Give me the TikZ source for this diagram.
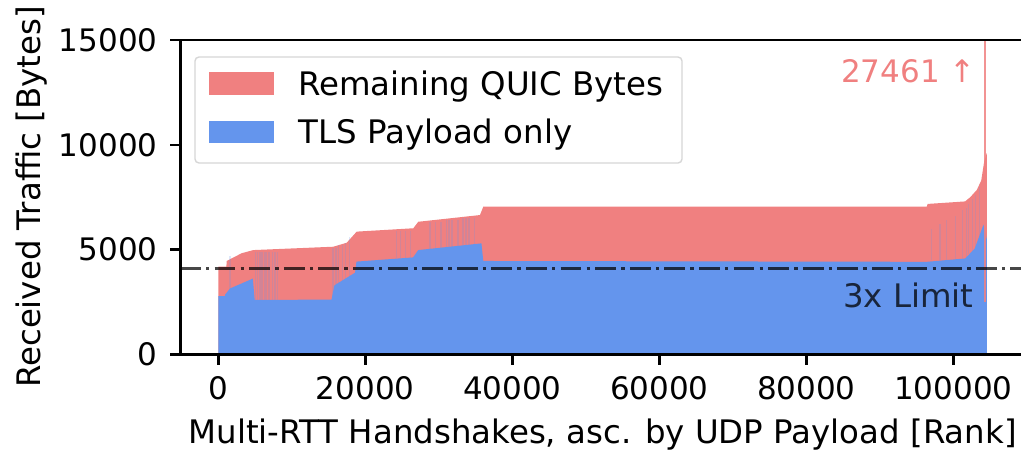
\documentclass[tikz,border=0pt]{standalone}
\usepackage{fontspec}
\setmainfont{DejaVu Sans}
\usetikzlibrary{positioning}
\definecolor{quicred}{RGB}{240,128,128}
\definecolor{tlsblue}{RGB}{100,149,237}
\definecolor{legframe}{RGB}{214,214,214}
\tikzstyle{spine}=[line width=1.25pt]
\tikzstyle{tickmark}=[line width=1.25pt]
\tikzstyle{ticklabel}=[inner sep=0pt]
\tikzstyle{biglabel}=[inner sep=0pt, font=\fontsize{16.2}{19}\selectfont]
\tikzstyle{patch}=[rectangle, inner sep=0pt, minimum width=32.5pt, minimum height=11.2pt]
\tikzstyle{streak}=[draw=tlsblue, opacity=0.22, line width=0.6pt]
\tikzstyle{limitline}=[black, opacity=0.72, line width=1.7pt,
  dash pattern=on 10.4pt off 2.6pt on 1.7pt off 2.6pt]

\begin{document}
\begin{tikzpicture}[x=0.5pt, y=-0.5pt, font=\fontsize{15.5}{18}\selectfont]
    \useasboundingbox (0,0) rectangle (1021,450);

    % stacked areas, k handshakes on x, kB on y
    \begin{scope}[shift={(218.3,354.5)}, x=3.675pt, y=10.485pt]
      \clip (-5.2,0) rectangle (109.7,15);
      \fill[quicred] (0,0) -- (0,4.19) -- (1.1,4.19) -- (1.14,4.46) -- (3.18,4.83)
        -- (4.76,4.98) -- (15.65,5.14) -- (17.47,5.33) -- (18.83,5.86) -- (26.53,6.02)
        -- (27.21,6.33) -- (35.6,6.65) -- (36.05,7.05) -- (96.4,7.05) -- (96.5,7.18)
        -- (101.6,7.3) -- (102.3,7.5) -- (103.2,7.85) -- (103.8,8.3) -- (104.2,9.2)
        -- (104.55,9.6) -- (104.55,0) -- cycle;
      \fill[tlsblue] (0,0) -- (0,2.79) -- (0.9,2.79) -- (0.95,2.87) -- (1.6,3.15)
        -- (4.7,3.62) -- (4.95,2.6) -- (15.4,2.62) -- (15.8,3.3) -- (17.2,3.6)
        -- (18.6,3.9) -- (18.8,4.43) -- (26.5,4.63) -- (27.2,4.98) -- (35.8,5.3)
        -- (36.05,4.46) -- (96.4,4.42) -- (101.6,4.58) -- (102.9,5.04) -- (104.1,6.19)
        -- (104.55,5.5) -- (104.55,0) -- cycle;
      \foreach \k/\lo/\hi in {1.6/3.1/4.7, 5.1/2.6/4.9, 5.3/2.6/4.9, 5.6/2.6/4.9,
          5.8/2.6/4.9, 6.0/2.6/4.9, 6.3/2.6/4.9, 6.5/2.6/4.9, 6.8/2.6/4.9,
          7.0/2.6/4.9, 7.4/2.6/4.9, 7.7/2.6/4.9, 8.0/2.6/4.9, 15.5/2.7/5.1,
          15.7/2.7/5.1, 16.0/3.0/5.1, 16.4/3.2/5.2, 16.9/3.4/5.2, 17.3/3.5/5.3,
          17.9/3.6/5.6, 24.2/4.6/5.9, 24.8/4.6/5.9, 25.5/4.6/5.9, 26.1/4.6/5.9,
          28.8/5.0/6.3, 29.5/5.0/6.3, 30.3/5.0/6.3, 31.0/5.1/6.4, 31.4/5.1/6.4,
          31.8/5.1/6.4, 32.6/5.1/6.4, 33.3/5.2/6.5, 33.7/5.2/6.5, 34.1/5.2/6.5,
          34.9/5.2/6.5, 97.0/4.5/6.0, 98.2/4.5/6.2, 99.1/4.5/6.4, 100.3/4.5/6.6,
          101.2/4.6/6.9, 101.8/4.6/7.0, 102.1/4.8/7.2, 102.6/4.9/7.4, 103.0/5.0/7.6,
          103.6/5.4/8.0}
        \draw[streak] (\k,\lo) -- (\k,\hi);
      \draw[quicred, opacity=0.85, line width=1.2pt] (104.3,2.5) -- (104.3,15);
      \draw[limitline] (-5.2,4.1) -- (109.7,4.1);
    \end{scope}

    \node[biglabel, anchor=base east, text=black, text opacity=0.75] (limit) at (974,307) {3x Limit};
    \node[ticklabel, anchor=base east, text=quicred] (peak) at (976,82) {27461 ↑};

    % axes
    \draw[spine] (180.5,40) -- (180.5,354.5);
    \draw[spine] (180.5,354.5) -- (1021,354.5);
    \draw[spine] (180.5,40) -- (1021,40);
    \foreach \k/\lab in {0/0, 20/20000, 40/40000, 60/60000, 80/80000, 100/100000} {
        \draw[tickmark] ({218.3+7.35*\k},354.5) -- ++(0,10.5);
        \node[ticklabel, anchor=north] (xt\k) at ({218.3+7.35*\k},376.5) {\lab};
    }
    \foreach \v/\lab in {0/0, 5/5000, 10/10000, 15/15000} {
        \draw[tickmark] (170,{354.5-20.97*\v}) -- (180.5,{354.5-20.97*\v});
        \node[ticklabel, anchor=east] (yt\v) at (158,{354.5-20.97*\v}) {\lab};
    }
    \node[biglabel, anchor=base] (xlab) at (602.5,443)
        {Multi-RTT Handshakes, asc. by UDP Payload [Rank]};
    \node[biglabel, anchor=base, rotate=90] (ylab) at (40,197)
        {Received Traffic [Bytes]};

    % legend
    \node[draw=legframe, fill=white, fill opacity=0.8, rounded corners=2pt, line width=0.7pt,
        inner sep=0pt, minimum width=243.5pt, minimum height=53pt] (leg) at (438.5,110) {};
    \node[patch, fill=quicred] (legred) at (241.7,83.3) {};
    \node[patch, fill=tlsblue] (legblue) at (241.7,131.7) {};
    \node[biglabel, anchor=base west] (redtext) at (298,95) {Remaining QUIC Bytes};
    \node[biglabel, anchor=base west] (bluetext) at (298,143.3) {TLS Payload only};
\end{tikzpicture}
\end{document}
